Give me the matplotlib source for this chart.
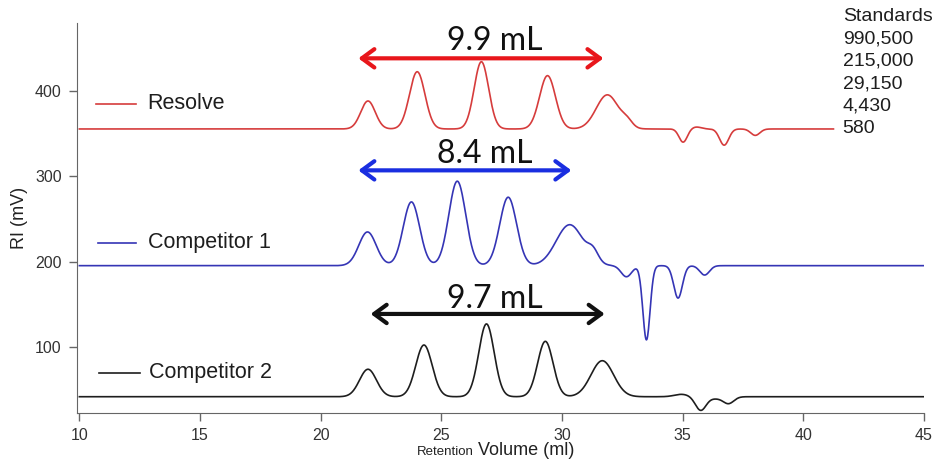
import numpy as np
import matplotlib
matplotlib.use('Agg')
import matplotlib.pyplot as plt

# retention volume range of each trace (mL)
vol_start = 10.0
vol_end = 45.0
resolve_end = 41.25

# Resolve trace: baseline (mV) and peaks (centre mL, height mV, sigma mL)
resolve_base = 355.5
resolve_center = [21.96, 24.0, 26.66, 29.4, 31.88, 32.7, 35.02, 35.57, 36.72, 38.01]
resolve_height = [32.8, 67.1, 78.8, 62.5, 40.0, 7.0, -15.5, 2.3, -19.0, -7.5]
resolve_sigma = [0.3, 0.32, 0.3, 0.33, 0.46, 0.22, 0.17, 0.2, 0.19, 0.19]

# Competitor 1 trace
comp1_base = 195.3
comp1_center = [21.94, 23.76, 25.66, 27.77, 30.32, 31.29, 32.67, 33.5, 34.81, 35.91]
comp1_height = [39.5, 74.7, 99.0, 80.2, 48.0, 12.0, -13.0, -87.0, -38.0, -11.0]
comp1_sigma = [0.36, 0.34, 0.35, 0.35, 0.56, 0.22, 0.22, 0.15, 0.18, 0.2]

# Competitor 2 trace
comp2_base = 41.7
comp2_center = [21.96, 24.28, 26.87, 29.31, 31.67, 34.95, 35.75, 36.36, 36.9]
comp2_height = [32.2, 60.6, 85.3, 64.9, 42.2, 2.8, -16.0, -2.0, -8.0]
comp2_sigma = [0.35, 0.34, 0.32, 0.32, 0.47, 0.3, 0.22, 0.25, 0.22]

# resolution spans (mL) drawn as double arrows
spans = [(21.56, 31.72), (21.56, 30.39), (22.07, 31.77)]
span_labels = ['9.9 mL', '8.4 mL', '9.7 mL']

names = ['Resolve', 'Competitor 1', 'Competitor 2']
standards = ['Standards', '990,500', '215,000', '29,150', '4,430', '580']


def trace(x, base, centers, heights, sigmas):
    y = np.full_like(x, base)
    for c, h, s in zip(centers, heights, sigmas):
        y += h * np.exp(-0.5 * ((x - c) / s) ** 2)
    return y


line_colors = ['#d63c3c', '#3535b5', '#1e1e1e']
arrow_colors = ['#e8161b', '#1a2ee0', '#111111']
sans = ['Liberation Sans', 'DejaVu Sans']

fig = plt.figure(figsize=(9.33, 4.59), dpi=100)
ax = fig.add_axes([0.0825, 0.1013, 0.9078, 0.8486])

x_r = np.linspace(vol_start, resolve_end, 2000)
x_c = np.linspace(vol_start, vol_end, 2000)
ax.plot(x_r, trace(x_r, resolve_base, resolve_center, resolve_height, resolve_sigma),
        color=line_colors[0], lw=1.2)
ax.plot(x_c, trace(x_c, comp1_base, comp1_center, comp1_height, comp1_sigma),
        color=line_colors[1], lw=1.2)
ax.plot(x_c, trace(x_c, comp2_base, comp2_center, comp2_height, comp2_sigma),
        color=line_colors[2], lw=1.2)

# arrows + labels
arrow_y = [438.3, 307.0, 138.7]
label_x = [27.2, 26.8, 27.2]
label_y = [448.0, 315.5, 145.5]
for i in range(3):
    ax.annotate('', xy=(spans[i][0], arrow_y[i]), xytext=(spans[i][1], arrow_y[i]),
                arrowprops=dict(arrowstyle='<->,head_length=0.45,head_width=0.33',
                                color=arrow_colors[i], lw=3, mutation_scale=20,
                                shrinkA=0, shrinkB=0))
    ax.text(label_x[i], label_y[i], span_labels[i], ha='center', va='baseline',
            fontsize=23, family=['Lato', 'DejaVu Sans'], color='#111111')

# in-plot legend entries
key_y = [384.8, 222.3, 69.9]
key_x0 = [10.70, 10.79, 10.83]
key_x1 = [12.36, 12.36, 12.53]
key_tx = [12.8, 12.85, 12.9]
for i in range(3):
    ax.plot([key_x0[i], key_x1[i]], [key_y[i], key_y[i]], color=line_colors[i], lw=1.2)
    ax.text(key_tx[i], key_y[i], names[i], va='center', ha='left', fontsize=15.5,
            family=sans, color='#1e1e1e')

# standards list
for i, s in enumerate(standards):
    fig.text(0.9032, 0.9636 - i * 0.0486, s, ha='left', va='center', fontsize=14,
             family=sans, color='#1e1e1e')

ax.set_xlim(9.9, 45.0)
ax.set_ylim(23.2, 479.7)
ax.set_xticks(np.arange(10, 46, 5))
ax.set_yticks([100, 200, 300, 400])
for side in ['top', 'right']:
    ax.spines[side].set_visible(False)
for side in ['left', 'bottom']:
    ax.spines[side].set_color('#666666')
ax.tick_params(colors='#666666', length=6, width=1, labelcolor='#333333',
               labelsize=11.5, pad=5)
for lab in ax.get_xticklabels() + ax.get_yticklabels():
    lab.set_family(sans)
ax.set_ylabel('RI (mV)', fontsize=13, family=sans, color='#222222', labelpad=5)

fig.text(0.5075, 0.0087, 'Retention', ha='right', va='baseline', fontsize=9.5,
         family=sans, color='#222222')
fig.text(0.5125, 0.0087, 'Volume (ml)', ha='left', va='baseline', fontsize=13,
         family=sans, color='#222222')

fig.savefig('out.png', dpi=100)
